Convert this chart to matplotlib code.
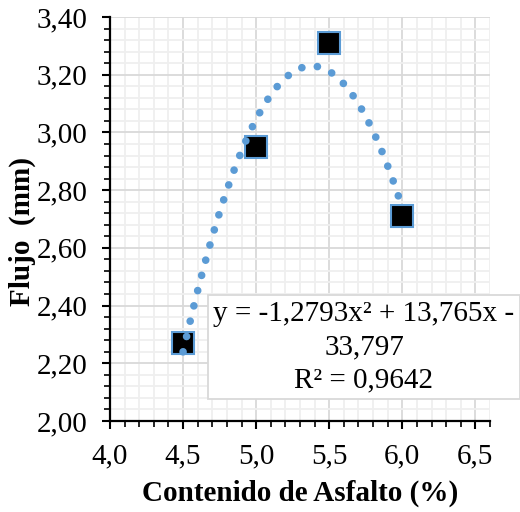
import matplotlib
matplotlib.use("Agg")
import matplotlib.pyplot as plt
import numpy as np
from matplotlib.ticker import FuncFormatter, MultipleLocator

# Ensayo Marshall: flujo vs contenido de asfalto
asfalto = [4.5, 5.0, 5.5, 6.0]
flujo = [2.27, 2.95, 3.31, 2.71]

# Coeficientes de la linea de tendencia (polinomica grado 2, como la etiqueta)
coef_tendencia = [-1.2793, 13.765, -33.797]
r2 = 0.9642

x_ticks = [4.0, 4.5, 5.0, 5.5, 6.0, 6.5]
y_ticks = [2.00, 2.20, 2.40, 2.60, 2.80, 3.00, 3.20, 3.40]

plt.rcParams["font.family"] = ["Liberation Serif", "DejaVu Serif"]
plt.rcParams["font.size"] = 21

blue = "#5B9BD5"

fig = plt.figure(figsize=(5.2, 5.12), dpi=100)
ax = fig.add_axes([0.2115, 0.1777, 0.7308, 0.7891])

# trendline, dotted
xs = np.linspace(asfalto[0], asfalto[-1], 300)
ys = np.polyval(coef_tendencia, xs)
ax.plot(xs, ys, color=blue, linewidth=5.5, linestyle=(0, (0.01, 2.05)),
        dash_capstyle="round", zorder=4)

ax.plot(asfalto, flujo, linestyle="none", marker="s", markersize=16,
        markerfacecolor="black", markeredgecolor=blue, markeredgewidth=1.5,
        zorder=3)

ax.set_xlim(4.0, 6.6)
ax.set_ylim(2.0, 3.4)
ax.set_xticks(x_ticks)
ax.set_yticks(y_ticks)
ax.xaxis.set_minor_locator(MultipleLocator(0.1))
ax.yaxis.set_minor_locator(MultipleLocator(0.04))
ax.xaxis.set_major_formatter(FuncFormatter(lambda v, p: f"{v:.1f}".replace(".", ",")))
ax.yaxis.set_major_formatter(FuncFormatter(lambda v, p: f"{v:.2f}".replace(".", ",")))

ax.grid(True, which="major", color="#D9D9D9", linewidth=1.3, zorder=0)
ax.grid(True, which="minor", color="#EFEFEF", linewidth=1.3, zorder=0)
ax.set_axisbelow(True)

for side in ("top", "right"):
    ax.spines[side].set_visible(False)
for side in ("left", "bottom"):
    ax.spines[side].set_linewidth(1.6)
    ax.spines[side].set_color("black")

ax.tick_params(which="major", direction="out", length=6, width=1.5, pad=10,
               labelsize=21)
ax.tick_params(which="minor", direction="out", length=4, width=1.2)

ax.set_xlabel("Contenido de Asfalto (%)", fontweight="bold", fontsize=21)
ax.set_ylabel("Flujo  (mm)", fontweight="bold", fontsize=21)
ax.yaxis.set_label_coords(-0.195, 0.47)
ax.xaxis.set_label_coords(0.5, -0.145)

eq = f"y = -1,2793x² + 13,765x -\n33,797\nR² = {r2:.4f}".replace("0.", "0,")
fig.text(364 / 520, 1 - 347 / 512, eq, ha="center", va="center",
         multialignment="center", fontsize=21, linespacing=1.35,
         bbox=dict(boxstyle="square,pad=0.2", facecolor="white",
                   edgecolor="#D9D9D9", linewidth=1.3))

fig.savefig("out.png", dpi=100)
